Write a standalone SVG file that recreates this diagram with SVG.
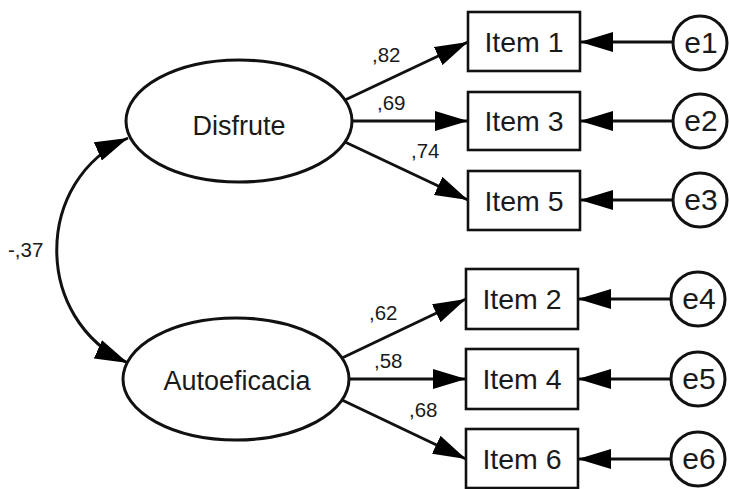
<svg xmlns="http://www.w3.org/2000/svg" width="729" height="489" viewBox="0 0 729 489">
<style>
text{font-family:"Liberation Sans",Arial,sans-serif;fill:#1a1a1a}
.lat{font-size:27px;text-anchor:middle}
.obs{font-size:28.5px;text-anchor:middle}
.err{font-size:30px;text-anchor:middle}
.lbl{font-size:20.5px}
.shape{fill:#fff;stroke:#111;stroke-width:3}
.box{fill:#fff;stroke:#111;stroke-width:2.6}
.con{fill:none;stroke:#111;stroke-width:3}
</style>
<defs>
<marker id="ah" viewBox="0 0 33 20" refX="33" refY="10" markerWidth="33" markerHeight="20" markerUnits="userSpaceOnUse" orient="auto-start-reverse">
<path d="M0,0 L33,10 L0,20 z" fill="#000"/>
</marker>
</defs>
<g id="connectors">
<path class="con" d="M128,138 C33,180 33,320 128,363" marker-start="url(#ah)" marker-end="url(#ah)"/>
<line class="con" x1="345" y1="100" x2="468" y2="42" marker-end="url(#ah)"/>
<line class="con" x1="352" y1="121" x2="468" y2="121" marker-end="url(#ah)"/>
<line class="con" x1="345" y1="142" x2="468" y2="200" marker-end="url(#ah)"/>
<line class="con" x1="342" y1="358" x2="466" y2="299" marker-end="url(#ah)"/>
<line class="con" x1="349" y1="379" x2="466" y2="379" marker-end="url(#ah)"/>
<line class="con" x1="342" y1="400" x2="466" y2="459" marker-end="url(#ah)"/>
<line class="con" x1="673" y1="42" x2="580" y2="42" marker-end="url(#ah)"/>
<line class="con" x1="673" y1="121" x2="580" y2="121" marker-end="url(#ah)"/>
<line class="con" x1="673" y1="200" x2="580" y2="200" marker-end="url(#ah)"/>
<line class="con" x1="671" y1="299" x2="578" y2="299" marker-end="url(#ah)"/>
<line class="con" x1="671" y1="379" x2="578" y2="379" marker-end="url(#ah)"/>
<line class="con" x1="671" y1="459" x2="578" y2="459" marker-end="url(#ah)"/>
<text class="lbl" x="8" y="257">-,37</text>
<text class="lbl" x="372" y="62">,82</text>
<text class="lbl" x="377" y="110">,69</text>
<text class="lbl" x="411" y="158">,74</text>
<text class="lbl" x="369" y="320">,62</text>
<text class="lbl" x="374" y="368">,58</text>
<text class="lbl" x="409" y="417">,68</text>
</g>
<g id="disfrute"><ellipse class="shape" cx="239" cy="121" rx="113" ry="61"/><text class="lat" x="239" y="135">Disfrute</text></g>
<g id="autoeficacia"><ellipse class="shape" cx="236" cy="379" rx="113" ry="61"/><text class="lat" x="237" y="390">Autoeficacia</text></g>
<g id="item1"><rect class="box" x="468" y="12" width="112" height="59"/><text class="obs" x="524" y="52">Item 1</text></g>
<g id="item3"><rect class="box" x="468" y="92" width="112" height="58"/><text class="obs" x="524" y="131">Item 3</text></g>
<g id="item5"><rect class="box" x="468" y="171" width="112" height="59"/><text class="obs" x="524" y="211">Item 5</text></g>
<g id="item2"><rect class="box" x="466" y="269" width="112" height="60"/><text class="obs" x="522" y="309">Item 2</text></g>
<g id="item4"><rect class="box" x="466" y="349" width="112" height="60"/><text class="obs" x="522" y="389">Item 4</text></g>
<g id="item6"><rect class="box" x="466" y="429" width="112" height="59"/><text class="obs" x="522" y="469">Item 6</text></g>
<g id="e1"><circle class="shape" cx="700" cy="43" r="27"/><text class="err" x="701" y="53">e1</text></g>
<g id="e2"><circle class="shape" cx="700" cy="121" r="27"/><text class="err" x="701" y="131">e2</text></g>
<g id="e3"><circle class="shape" cx="700" cy="200" r="27"/><text class="err" x="701" y="210">e3</text></g>
<g id="e4"><circle class="shape" cx="698" cy="299" r="27"/><text class="err" x="699" y="309">e4</text></g>
<g id="e5"><circle class="shape" cx="698" cy="379" r="27"/><text class="err" x="699" y="389">e5</text></g>
<g id="e6"><circle class="shape" cx="698" cy="459" r="27"/><text class="err" x="699" y="469">e6</text></g>
</svg>
